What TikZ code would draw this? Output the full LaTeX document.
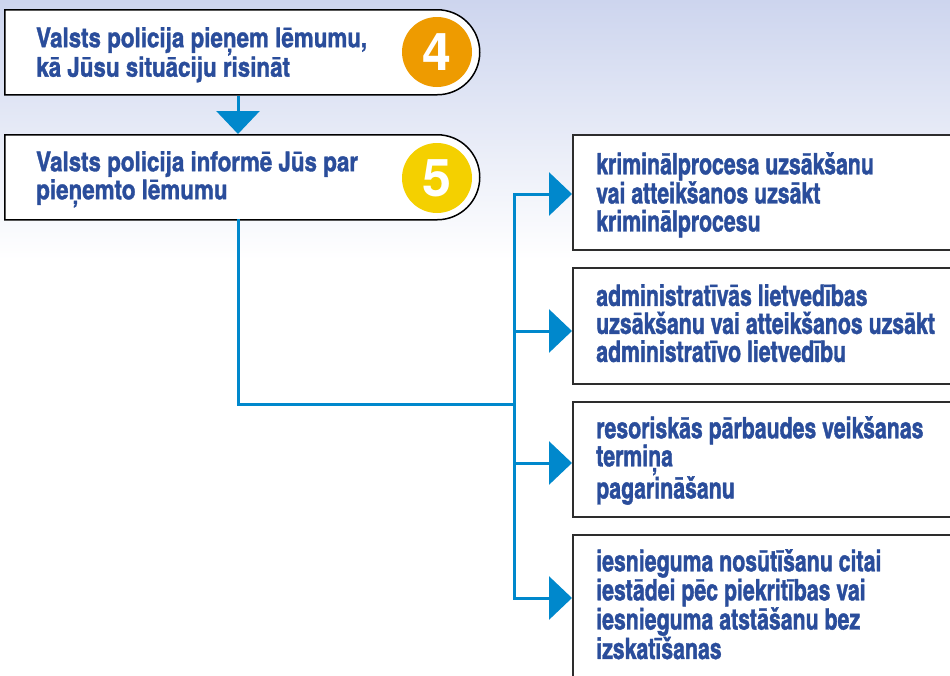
\documentclass[tikz,border=0pt]{standalone}
\usepackage{fontspec}
\newfontfamily\cnb{texgyreheroscn-bold.otf}[FakeBold=1.2]
\newfontfamily\cnbn{texgyreheroscn-bold.otf}[FakeStretch=0.88,FakeBold=1.2]
\newfontfamily\hb{texgyreheros-bold.otf}
\usetikzlibrary{arrows.meta,shapes.misc}
\definecolor{txt}{RGB}{42,77,155}
\definecolor{ln}{RGB}{0,136,204}
\definecolor{org}{RGB}{238,155,0}
\definecolor{yel}{RGB}{244,208,0}
\definecolor{bgtop}{RGB}{205,213,238}
\definecolor{bord}{RGB}{45,45,45}
\begin{document}
\begin{tikzpicture}[x=1pt,y=-1pt,
  lbox/.style={rounded rectangle, rounded rectangle left arc=none, draw=black, line width=1.5pt, fill=white, minimum width=475pt, minimum height=85pt, anchor=north west, inner sep=0pt},
  rbox/.style={draw=bord, line width=1.6pt, fill=white, anchor=north west, minimum width=420pt, inner sep=0pt},
  ltext/.style={anchor=north west, inner sep=0pt, align=left, text=txt, font=\cnb\fontsize{27.3}{28}\selectfont},
  rtext/.style={anchor=north west, inner sep=0pt, align=left, text=txt, font=\cnbn\fontsize{29.5}{28}\selectfont},
  num/.style={circle, minimum size=70pt, inner sep=0pt, text=white, font=\hb\fontsize{52}{52}\selectfont},
  conn/.style={draw=ln, line width=3pt, line cap=rect},
  arr/.style={draw=ln, line width=3pt, -{Triangle[width=43pt,length=23pt]}}
]
\useasboundingbox (0,0) rectangle (950,675);
\clip (0,0) rectangle (950,675);
\fill[white] (0,0) rectangle (950,675);
\shade[top color=bgtop, bottom color=white] (0,0) rectangle (950,260);

% left boxes
\node[lbox] (b4) at (4,9) {};
\node[lbox] (b5) at (4,134) {};
\node[num, fill=org] (c4) at (437,52) {4};
\node[num, fill=yel] (c5) at (437,178) {5};
\node[ltext] (tl4) at (36,27) {Valsts policija pieņem lēmumu,\\kā Jūsu situāciju risināt};
\node[ltext] (tl5) at (36,151) {Valsts policija informē Jūs par\\pieņemto lēmumu};

% right boxes
\node[rbox, minimum height=115pt] (r1) at (572,134) {};
\node[rbox, minimum height=116pt] (r2) at (572,267) {};
\node[rbox, minimum height=115pt] (r3) at (572,401) {};
\node[rbox, minimum height=160pt] (r4) at (572,534) {};
\node[rtext] (t1) at (596,152) {kriminālprocesa uzsākšanu\\vai atteikšanos uzsākt\\kriminālprocesu};
\node[rtext] (t2) at (596,284) {administratīvās lietvedības\\uzsākšanu vai atteikšanos uzsākt\\administratīvo lietvedību};
\node[rtext] (t3) at (596,416) {resoriskās pārbaudes veikšanas\\termiņa\\pagarināšanu};
\node[rtext] (t4) at (596,549) {iesnieguma nosūtīšanu citai\\iestādei pēc piekritības vai\\iesnieguma atstāšanu bez\\izskatīšanas};

% connectors
\coordinate (dx) at (238,0);
\coordinate (k) at (514,404);
\coordinate (j1) at (514,194);
\coordinate (j2) at (514,331);
\coordinate (j3) at (514,463);
\coordinate (j4) at (514,598);
\draw[arr] (b4.south -| dx) -- (b5.north -| dx);
\draw[conn] (b5.south -| dx) |- (k);
\draw[conn] (j1) -- (j4);
\draw[arr] (j1) -- (j1 -| r1.west);
\draw[arr] (j2) -- (j2 -| r2.west);
\draw[arr] (j3) -- (j3 -| r3.west);
\draw[arr] (j4) -- (j4 -| r4.west);
\end{tikzpicture}
\end{document}
